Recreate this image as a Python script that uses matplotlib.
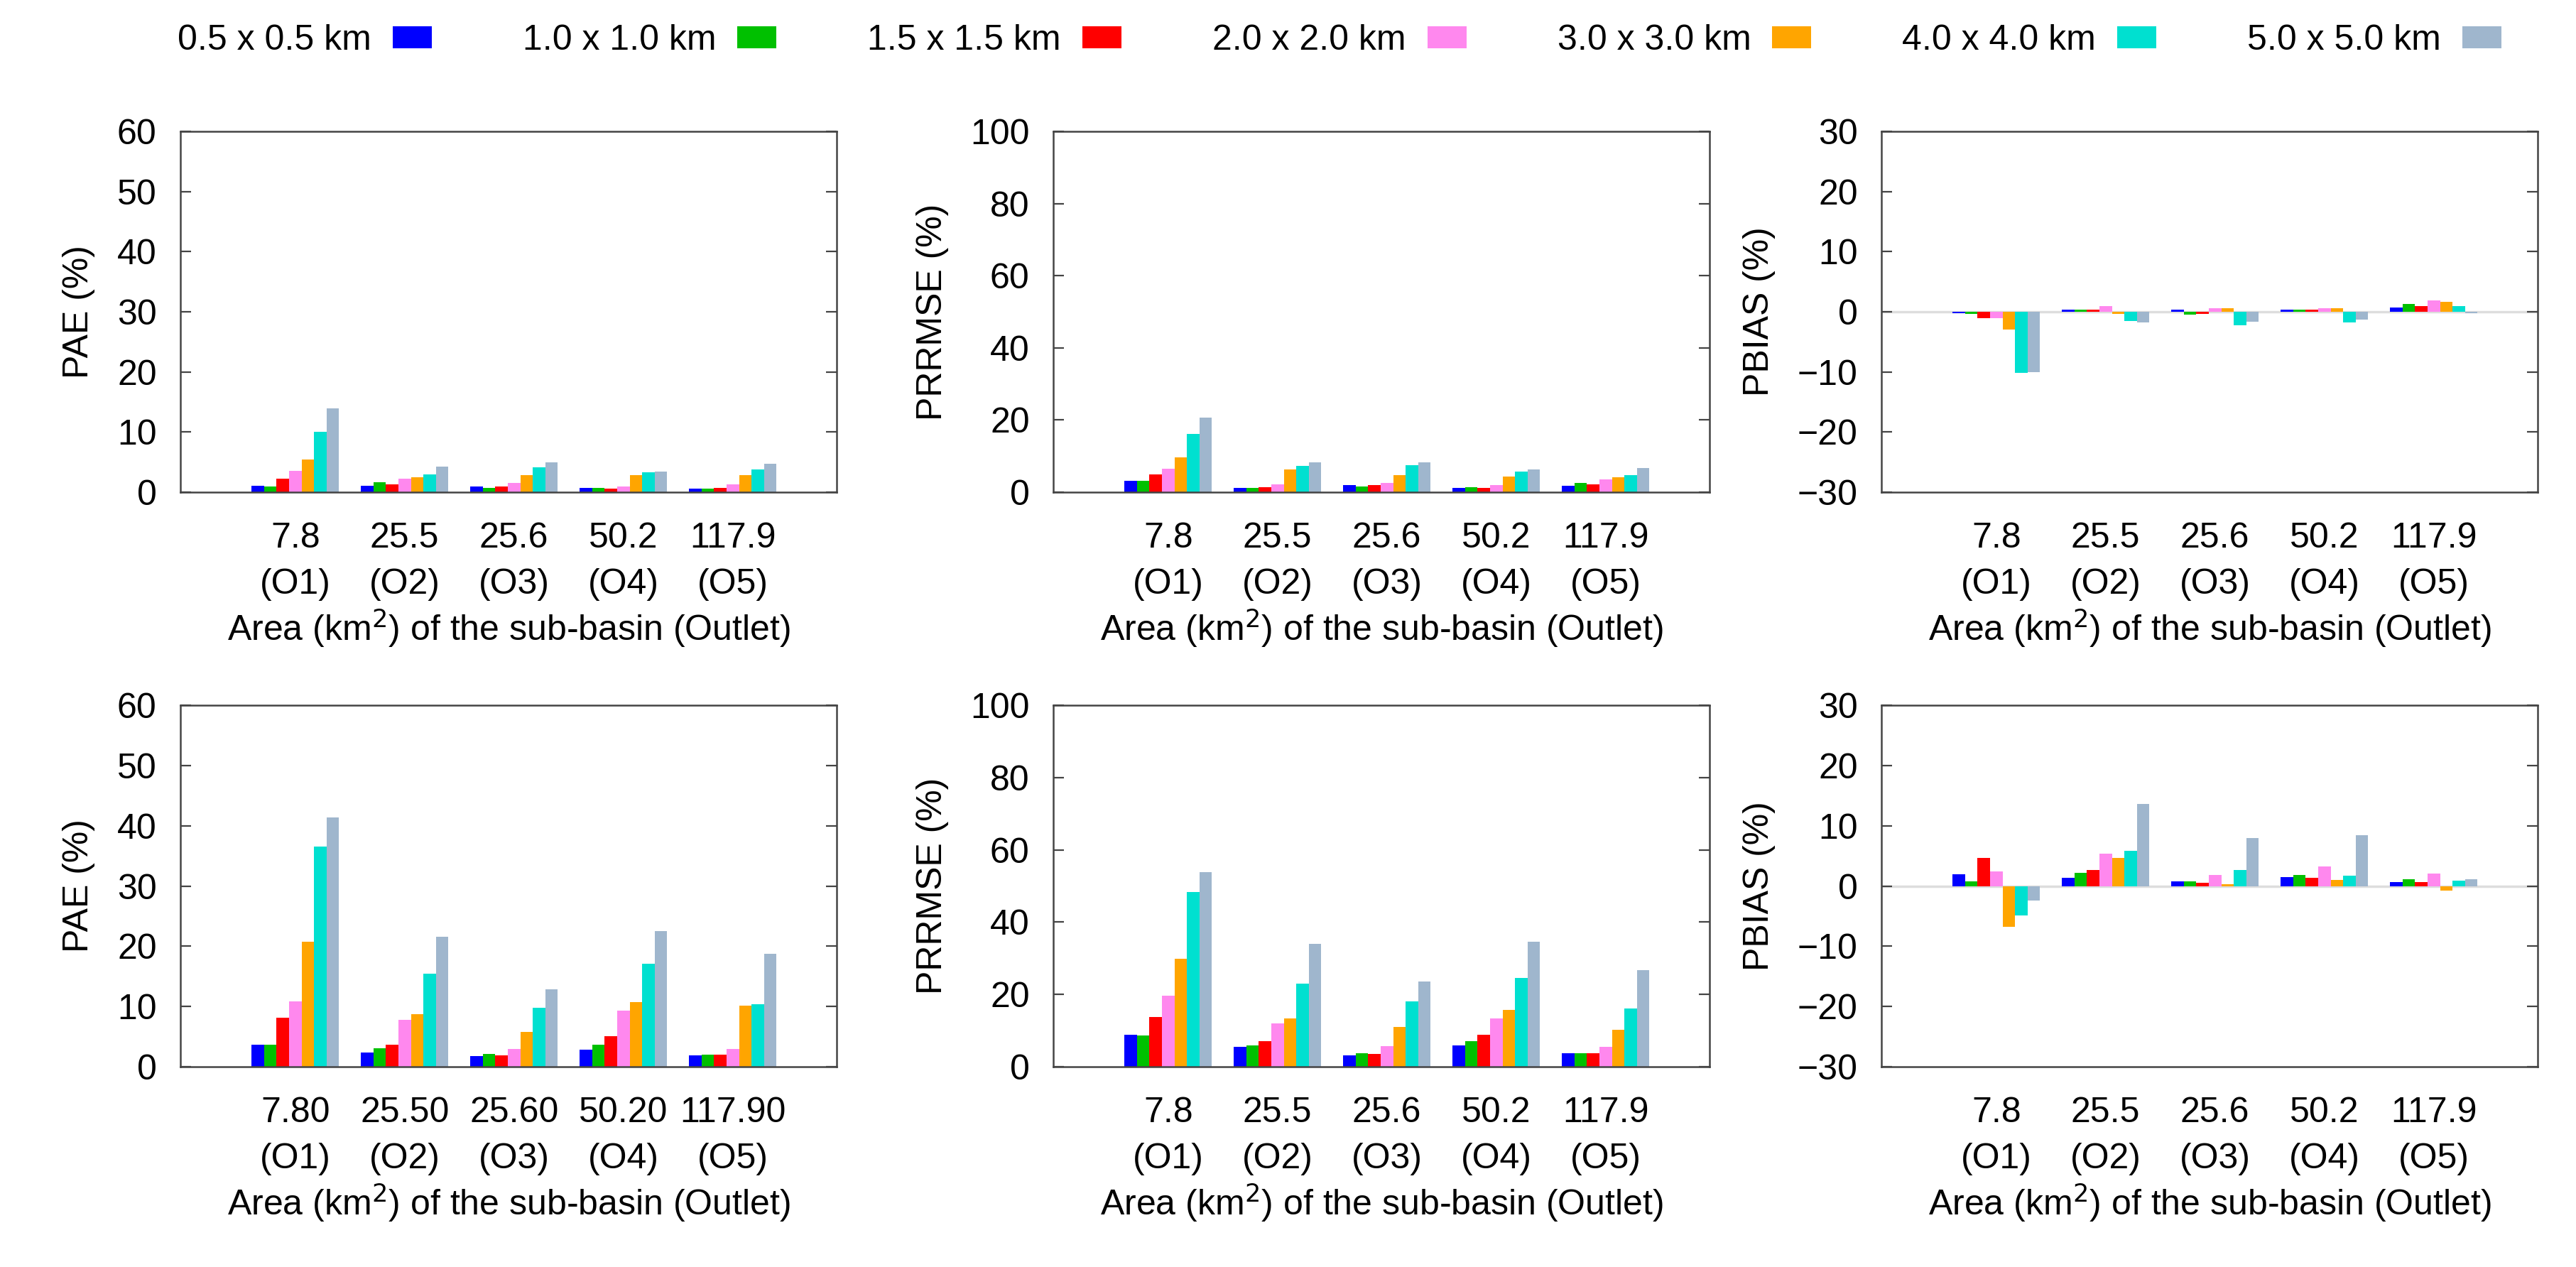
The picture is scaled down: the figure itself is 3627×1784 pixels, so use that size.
import matplotlib
matplotlib.use("Agg")
import matplotlib.pyplot as plt
import numpy as np

plt.rcParams['font.family'] = ['Liberation Sans', 'DejaVu Sans']
plt.rcParams['font.size'] = 36

# grid resolutions (legend)
resolutions = ["0.5 x 0.5 km", "1.0 x 1.0 km", "1.5 x 1.5 km", "2.0 x 2.0 km",
               "3.0 x 3.0 km", "4.0 x 4.0 km", "5.0 x 5.0 km"]
colors = ["#0000ff", "#00c000", "#ff0000", "#ff88ee", "#ffa500", "#00e0d0", "#9fb6cd"]

outlets = ["(O1)", "(O2)", "(O3)", "(O4)", "(O5)"]
areas_short = ["7.8", "25.5", "25.6", "50.2", "117.9"]
areas_long = ["7.80", "25.50", "25.60", "50.20", "117.90"]

# one row per outlet, one value per resolution
pae_top = [[1.1, 1.0, 2.2, 3.5, 5.4, 10.0, 13.9],
           [1.1, 1.6, 1.3, 2.2, 2.5, 2.9, 4.3],
           [1.0, 0.7, 1.0, 1.5, 2.8, 4.1, 5.0],
           [0.7, 0.7, 0.6, 1.0, 2.8, 3.3, 3.4],
           [0.6, 0.6, 0.7, 1.3, 2.8, 3.8, 4.7]]
prrmse_top = [[3.2, 3.2, 4.9, 6.4, 9.7, 16.1, 20.7],
              [1.1, 1.1, 1.3, 2.1, 6.3, 7.3, 8.3],
              [2.0, 1.6, 2.0, 2.5, 4.7, 7.4, 8.3],
              [1.1, 1.3, 1.1, 2.0, 4.3, 5.8, 6.3],
              [1.8, 2.5, 2.1, 3.6, 4.1, 4.7, 6.7]]
pbias_top = [[-0.2, -0.4, -1.1, -1.1, -2.9, -10.1, -10.0],
             [0.4, 0.4, 0.4, 1.0, -0.4, -1.5, -1.8],
             [0.4, -0.5, -0.4, 0.6, 0.6, -2.3, -1.7],
             [0.4, 0.4, 0.3, 0.6, 0.6, -1.8, -1.3],
             [0.7, 1.25, 0.9, 1.9, 1.6, 1.0, -0.2]]
pae_bot = [[3.7, 3.6, 8.1, 10.8, 20.7, 36.5, 41.4],
           [2.3, 3.1, 3.7, 7.8, 8.7, 15.5, 21.6],
           [1.8, 2.1, 1.9, 3.0, 5.8, 9.8, 12.9],
           [2.8, 3.7, 5.1, 9.3, 10.7, 17.1, 22.5],
           [1.9, 2.0, 2.0, 3.0, 10.1, 10.4, 18.8]]
prrmse_bot = [[8.8, 8.7, 13.8, 19.7, 29.8, 48.3, 53.9],
              [5.5, 5.9, 7.1, 11.9, 13.4, 22.9, 33.9],
              [3.1, 3.8, 3.6, 5.7, 11.1, 18.0, 23.6],
              [5.9, 7.1, 8.9, 13.4, 15.8, 24.6, 34.5],
              [3.7, 3.7, 3.7, 5.5, 10.2, 16.2, 26.7]]
pbias_bot = [[2.0, 0.8, 4.6, 2.4, -6.8, -4.9, -2.4],
             [1.4, 2.2, 2.6, 5.4, 4.6, 5.8, 13.6],
             [0.8, 0.8, 0.5, 1.8, 0.3, 2.7, 7.9],
             [1.5, 1.8, 1.3, 3.3, 1.0, 1.7, 8.4],
             [0.6, 1.1, 0.6, 2.1, -0.75, 0.9, 1.15]]

W, H = 3627, 1784
fig = plt.figure(figsize=(W / 100, H / 100), dpi=100)

cols_x = [(254, 1178), (1483, 2407), (2649, 3573)]
rows_y = [(185, 693), (993, 1502)]

panels = [
    (0, 0, pae_top, "PAE (%)", (0, 60, 10), areas_short),
    (0, 1, prrmse_top, "PRRMSE (%)", (0, 100, 20), areas_short),
    (0, 2, pbias_top, "PBIAS (%)", (-30, 30, 10), areas_short),
    (1, 0, pae_bot, "PAE (%)", (0, 60, 10), areas_long),
    (1, 1, prrmse_bot, "PRRMSE (%)", (0, 100, 20), areas_short),
    (1, 2, pbias_bot, "PBIAS (%)", (-30, 30, 10), areas_short),
]

bw = 0.8 / 7
x = np.arange(5)
handles = None
for r, c, data, ylab, (lo, hi, st), alabels in panels:
    x0, x1 = cols_x[c]
    y0, y1 = rows_y[r]
    ax = fig.add_axes([x0 / W, 1 - y1 / H, (x1 - x0) / W, (y1 - y0) / H])
    vals = np.array(data).T
    if lo < 0:
        ax.axhline(0, color="#dddddd", lw=2.5, zorder=0)
    bars = []
    for i in range(7):
        b = ax.bar(x - 0.4 + bw * (i + 0.5), vals[i], width=bw, color=colors[i],
                   label=resolutions[i], zorder=2)
        bars.append(b)
    if handles is None:
        handles = bars
    ax.set_xlim(-1.05, 4.95)
    ax.set_ylim(lo, hi)
    ax.set_yticks(np.arange(lo, hi + st, st))
    ax.set_xticks(x)
    ax.set_xticklabels([a + "\n" + o for a, o in zip(alabels, outlets)], linespacing=1.55)
    ax.tick_params(axis="y", direction="in", length=11, width=1.6, color="#444444",
                   pad=24, right=True)
    ax.tick_params(axis="x", length=0, pad=30)
    for sp in ax.spines.values():
        sp.set_linewidth(1.8)
        sp.set_color("#444444")
    ax.set_ylabel(ylab, labelpad=22)
    ax.set_xlabel("Area (km$^2$) of the sub-basin (Outlet)", labelpad=6)

fig.legend(handles, resolutions, loc="lower left",
           bbox_to_anchor=(250 / W, 1 - 80 / H, (3522 - 250) / W, 60 / H),
           mode="expand", ncol=7, frameon=False, markerfirst=False,
           handlelength=1.1, handleheight=0.6, handletextpad=0.6,
           borderaxespad=0, borderpad=0)

fig.savefig("out.png", dpi=100)
